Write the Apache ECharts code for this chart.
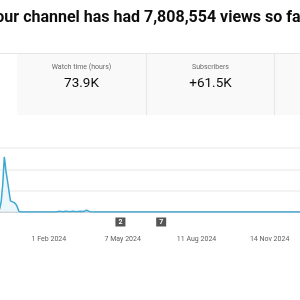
<!DOCTYPE html>
<html>
<head>
<meta charset="utf-8">
<script src="https://cdn.jsdelivr.net/npm/echarts@6/dist/echarts.min.js"></script>
<style>
html,body{margin:0;padding:0;background:#fff;}
#chart{width:300px;height:300px;}
</style>
</head>
<body>
<div id="chart"></div>
<script>
// ---- data ----
var titleText = 'Your channel has had 7,808,554 views so far';
var cardLabels = ['Watch time (hours)', 'Subscribers'];
var cardValues = ['73.9K', '+61.5K'];
var dates = ['2023-11-26','2023-11-29','2023-12-01','2023-12-03','2023-12-05','2023-12-06','2023-12-07','2023-12-09','2023-12-11','2023-12-13','2023-12-15','2023-12-18','2023-12-21','2023-12-24','2023-12-27','2024-01-20','2024-02-10','2024-02-15','2024-02-19','2024-02-23','2024-02-28','2024-03-03','2024-03-08','2024-03-13','2024-03-17','2024-03-21','2024-03-25','2024-04-01','2024-06-01','2024-09-01','2024-12-30'];
var views = [0.12,0.15,0.5,1.3,2.58,2.3,1.95,1.5,1.0,0.52,0.47,0.44,0.32,0.03,0.0,0.0,0.0,0.03,0.01,0.04,0.015,0.03,0.01,0.04,0.02,0.08,0.015,0.0,0.0,0.0,0.0];
var tickDates = ['2024-02-01','2024-05-07','2024-08-11','2024-11-14'];
var markerDates = ['2024-05-04','2024-06-26'];
var markerLabels = ['2','7'];
var axisMin = '2023-11-29 10:00:00';
var axisMax = '2024-12-23 12:00:00';
var monthNames = ['Jan','Feb','Mar','Apr','May','Jun','Jul','Aug','Sep','Oct','Nov','Dec'];

function ts(s){ return echarts.number.parseDate(s).getTime(); }

var seriesData = dates.map(function(d,i){ return [ts(d), views[i]]; });
var markData = markerDates.map(function(d,i){
  return {coord:[ts(d),0], value: markerLabels[i]};
});

// title position: place "7" at x=144
var cv = document.createElement('canvas').getContext('2d');
cv.font = 'bold 16px Roboto';
var prefixW = cv.measureText('Your channel has had ').width;
var titleX = 144 - prefixW;

var chart = echarts.init(document.getElementById('chart'), null, {renderer:'canvas'});
var option = {
  animation:false,
  backgroundColor:'#fff',
  grid:{left:0,right:0,top:148,bottom:88,containLabel:false},
  xAxis:{
    type:'value',
    min: ts(axisMin),
    max: ts(axisMax),
    offset:18,
    axisLine:{show:true,lineStyle:{color:'#d4d4d4',width:2}},
    axisTick:{show:false},
    splitLine:{show:false},
    axisLabel:{
      customValues: tickDates.map(ts),
      color:'#606060', fontSize:7, fontFamily:'Roboto', margin:6,
      formatter:function(v){
        var d = new Date(v);
        return d.getDate()+' '+monthNames[d.getMonth()]+' '+d.getFullYear();
      }
    }
  },
  yAxis:{
    type:'value', min:0, max:3, interval:1,
    axisLabel:{show:false}, axisLine:{show:false}, axisTick:{show:false},
    splitLine:{lineStyle:{color:'#efefef',width:1.5}}
  },
  series:[{
    type:'line',
    data:seriesData,
    showSymbol:false,
    lineStyle:{color:'#3ea7d2',width:1.5},
    areaStyle:{color:'#e2f3fa'},
    markPoint:{
      symbol:'rect',
      symbolSize:[10,9],
      symbolOffset:[0,10],
      itemStyle:{color:'#555555'},
      label:{show:true,color:'#fff',fontSize:7,fontWeight:'bold',fontFamily:'Roboto',formatter:function(p){return p.value;}},
      data:markData
    }
  }],
  graphic:[
    {type:'text',x:titleX,y:18.4,style:{text:titleText,font:'bold 16px Roboto',fill:'#0d0d0d',verticalAlign:'middle',align:'left'}},
    {type:'rect',shape:{x:17,y:53,width:283,height:62},style:{fill:'#f9f9f9'}},
    {type:'line',shape:{x1:0,y1:53.5,x2:300,y2:53.5},style:{stroke:'#e6e6e6',lineWidth:1}},
    {type:'line',shape:{x1:146.5,y1:53,x2:146.5,y2:115},style:{stroke:'#e6e6e6',lineWidth:1}},
    {type:'line',shape:{x1:274.5,y1:53,x2:274.5,y2:115},style:{stroke:'#e6e6e6',lineWidth:1}},
    {type:'text',x:81.5,y:67.5,style:{text:cardLabels[0],font:'7px Roboto',fill:'#6a6a6a',align:'center',verticalAlign:'middle'}},
    {type:'text',x:81.5,y:84,style:{text:cardValues[0],font:'13.5px Roboto',fill:'#0d0d0d',align:'center',verticalAlign:'middle'}},
    {type:'text',x:210.5,y:67.5,style:{text:cardLabels[1],font:'7px Roboto',fill:'#6a6a6a',align:'center',verticalAlign:'middle'}},
    {type:'text',x:210.5,y:84,style:{text:cardValues[1],font:'13.5px Roboto',fill:'#0d0d0d',align:'center',verticalAlign:'middle'}}
  ]
};
chart.setOption(option);
</script>
</body>
</html>
